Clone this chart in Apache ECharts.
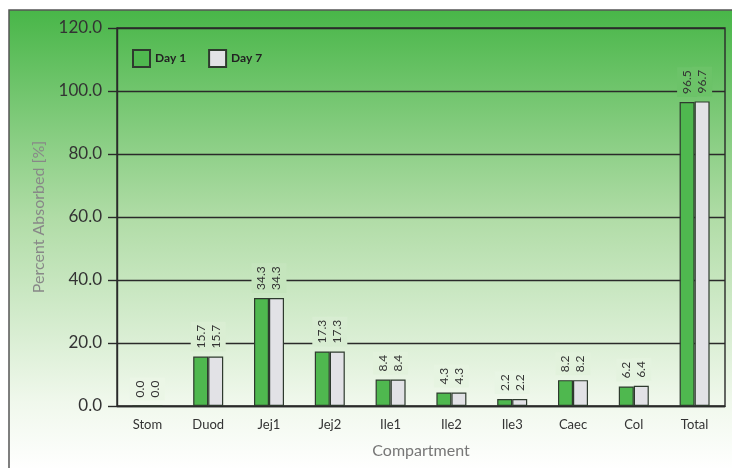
<!DOCTYPE html>
<html>
<head>
<meta charset="utf-8">
<script src="https://cdn.jsdelivr.net/npm/echarts@6/dist/echarts.min.js"></script>
<style>
  html, body { margin: 0; padding: 0; background: #fff; }
  #chart { width: 732px; height: 468px; }
</style>
</head>
<body>
<div id="chart"></div>
<script>
// Absorption per compartment, two sampling days
const categories = ['Stom', 'Duod', 'Jej1', 'Jej2', 'Ile1', 'Ile2', 'Ile3', 'Caec', 'Col', 'Total'];
const day1 = [0.0, 15.7, 34.3, 17.3, 8.4, 4.3, 2.2, 8.2, 6.2, 96.5];
const day7 = [0.0, 15.7, 34.3, 17.3, 8.4, 4.3, 2.2, 8.2, 6.4, 96.7];
const yTicks = { min: 0, max: 120, step: 20 };

const FONT = 'Lato, "Open Sans", sans-serif';

// background gradient stops (offset from top of panel)
const bgStops = [
  [0.0, [72, 182, 72]],
  [0.45, [176, 220, 166]],
  [0.85, [240, 248, 236]],
  [1.0, [255, 255, 255]]
];
const panelTop = 10, panelH = 470 - 10;
const plotTop = 28, plotBottom = 406;

function bgColorAtY(y) {
  const t = Math.min(1, Math.max(0, (y - panelTop) / panelH));
  for (let i = 1; i < bgStops.length; i++) {
    if (t <= bgStops[i][0]) {
      const a = bgStops[i - 1], b = bgStops[i];
      const f = (t - a[0]) / (b[0] - a[0]);
      const c = a[1].map((v, k) => Math.round(v + (b[1][k] - v) * f));
      return 'rgb(' + c.join(',') + ')';
    }
  }
  return '#fff';
}
// colour behind a value label, so the grid line is broken where text sits
function labelBg(v) {
  const yTop = plotBottom - (v / yTicks.max) * (plotBottom - plotTop);
  return bgColorAtY(yTop - 20);
}

function withLabelBg(values) {
  return values.map(v => ({
    value: v,
    label: { backgroundColor: labelBg(v) }
  }));
}

const labelStyle = {
  show: true,
  position: 'top',
  rotate: 90,
  align: 'left',
  verticalAlign: 'middle',
  distance: 5,
  fontFamily: FONT,
  fontSize: 12,
  color: '#333',
  padding: [4, 3, 4, 3],
  formatter: p => p.value.toFixed(1)
};

const chart = echarts.init(document.getElementById('chart'), null, { renderer: 'canvas' });
chart.setOption({
  animation: false,
  textStyle: { fontFamily: FONT },
  graphic: [{
    type: 'rect',
    z: -10,
    shape: { x: 9, y: panelTop, width: 740, height: panelH },
    style: {
      fill: new echarts.graphic.LinearGradient(0, 0, 0, 1, bgStops.map(s => ({
        offset: s[0], color: 'rgb(' + s[1].join(',') + ')'
      }))),
      stroke: '#555',
      lineWidth: 1.5
    }
  }],
  legend: {
    left: 127,
    top: 44,
    icon: 'rect',
    itemWidth: 17,
    itemHeight: 17,
    itemGap: 22,
    textStyle: { fontFamily: FONT, fontSize: 12, fontWeight: 'bold', color: '#222' },
    data: ['Day 1', 'Day 7']
  },
  grid: {
    left: 117, right: 7, top: plotTop, bottom: 468 - plotBottom,
    show: true, borderColor: '#2a2a2a', borderWidth: 1.4, backgroundColor: 'transparent'
  },
  xAxis: {
    type: 'category',
    data: categories,
    name: 'Compartment',
    nameLocation: 'middle',
    nameGap: 37,
    nameTextStyle: { fontFamily: FONT, fontSize: 16, color: '#777' },
    axisLine: { lineStyle: { color: '#2a2a2a', width: 1.4 } },
    axisTick: { show: false },
    axisLabel: { fontFamily: FONT, fontSize: 13, color: '#333', margin: 12 }
  },
  yAxis: {
    type: 'value',
    min: yTicks.min,
    max: yTicks.max,
    interval: yTicks.step,
    name: 'Percent Absorbed [%]',
    nameLocation: 'middle',
    nameGap: 70,
    nameTextStyle: { fontFamily: FONT, fontSize: 16, color: '#888' },
    axisLine: { show: true, lineStyle: { color: '#2a2a2a', width: 1.4 } },
    axisTick: { show: true, length: 9, lineStyle: { color: '#2a2a2a', width: 1.4 } },
    axisLabel: {
      fontFamily: FONT, fontSize: 17, color: '#333', margin: 15,
      formatter: v => v.toFixed(1)
    },
    splitLine: { lineStyle: { color: '#2a2a2a', width: 1.4 } }
  },
  series: [
    {
      name: 'Day 1',
      type: 'bar',
      barWidth: 15,
      barGap: '0%',
      data: withLabelBg(day1),
      itemStyle: { color: '#4fb84f', borderColor: '#2e3a2e', borderWidth: 1.2 },
      label: labelStyle
    },
    {
      name: 'Day 7',
      type: 'bar',
      barWidth: 15,
      barGap: '0%',
      data: withLabelBg(day7),
      itemStyle: { color: '#e2e2e6', borderColor: '#2e3a2e', borderWidth: 1.2 },
      label: labelStyle
    }
  ]
});
</script>
</body>
</html>
